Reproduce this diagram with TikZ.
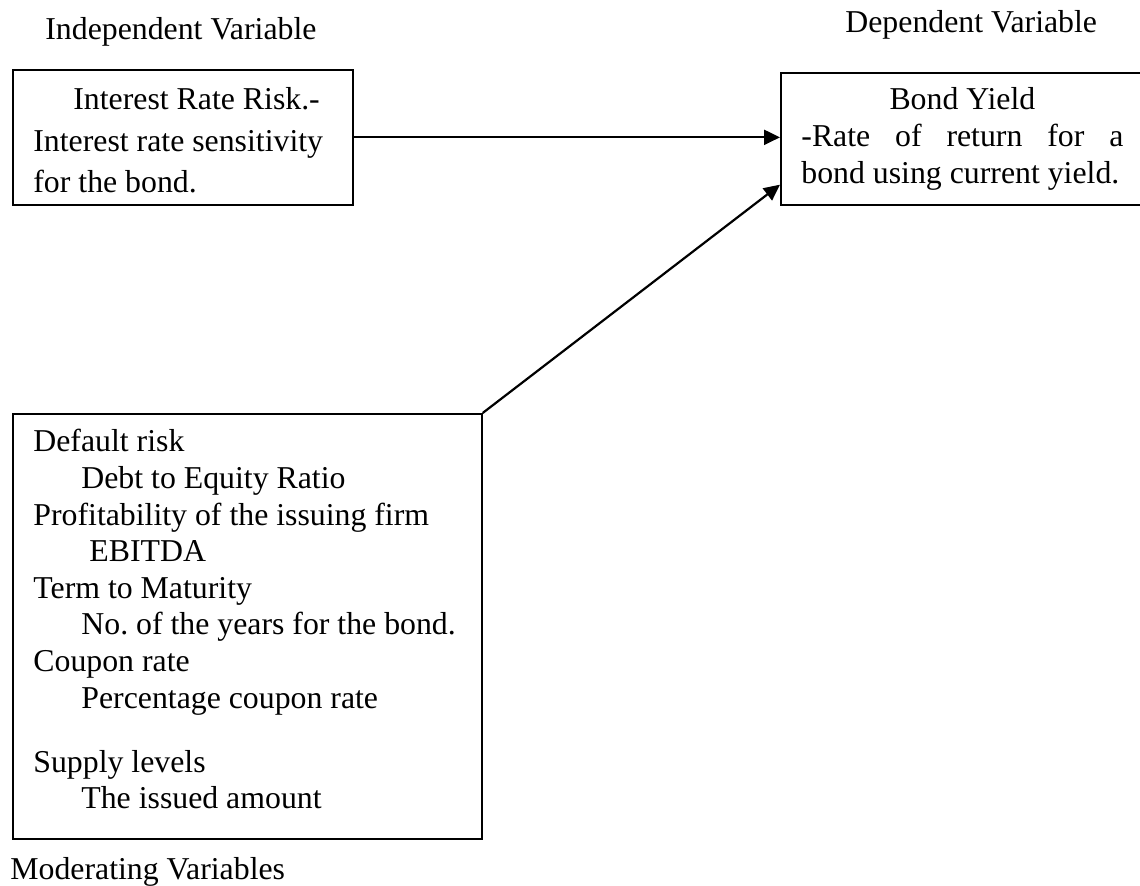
\documentclass[tikz,border=0pt]{standalone}
\usepackage{fontspec}
\setmainfont{Liberation Serif}
\usetikzlibrary{arrows.meta}
\frenchspacing
\begin{document}
\begin{tikzpicture}[x=0.5pt,y=-0.5pt,
  every node/.style={font=\fontsize{15.9pt}{18.3pt}\selectfont},
  box/.style={draw, line width=0.85pt, inner sep=0pt, anchor=north west},
  txt/.style={inner sep=0pt, anchor=base west},
  conn/.style={line width=1.1pt, -{Triangle[length=8pt,width=7.5pt]}}]
\clip (0,0) rectangle (1140,886);
% boxes
\node[box, minimum width=170pt, minimum height=67.5pt] (b1) at (12,69) {};
\node[box, minimum width=185pt, minimum height=66pt] (b2) at (780,72) {};
\node[box, minimum width=234.5pt, minimum height=212.5pt] (b3) at (12,413) {};
% headings
\node[txt] (lind) at (45,40) {Independent Variable};
\node[txt] (ldep) at (845,33) {Dependent Variable};
\node[txt] (lmod) at (10,879) {Moderating Variables};
% box texts
\node[txt] (t1) at (33,110) {\vtop{\baselineskip=20.75pt
  \hbox{\hspace*{20pt}Interest Rate Risk.-}
  \hbox{Interest rate sensitivity}
  \hbox{for the bond.}}};
\node[txt] (t2) at (801,110) {\vtop{\baselineskip=18.5pt
  \hbox to 161pt{\hfil Bond Yield\hfil}
  \hbox to 161pt{-Rate\hfill of\hfill return\hfill for\hfill a}
  \hbox{bond using current yield.}}};
\node[txt] (t3) at (33,452) {\vtop{\baselineskip=18.3pt
  \hbox{Default risk}
  \hbox{\hspace*{24pt}Debt to Equity Ratio}
  \hbox{Profitability of the issuing firm}
  \hbox{\hspace*{28pt}EBITDA}
  \hbox{Term to Maturity}
  \hbox{\hspace*{24pt}No. of the years for the bond.}
  \hbox{Coupon rate}
  \hbox{\hspace*{24pt}Percentage coupon rate}
  \vskip 13.7pt
  \hbox{Supply levels}
  \hbox{\hspace*{24pt}The issued amount}}};
% connectors
\draw[conn] (b1.east) -- (b1.east -| b2.west);
\draw[conn] (b3.north east) -- ([yshift=10.5pt]b2.south west);
\end{tikzpicture}
\end{document}
